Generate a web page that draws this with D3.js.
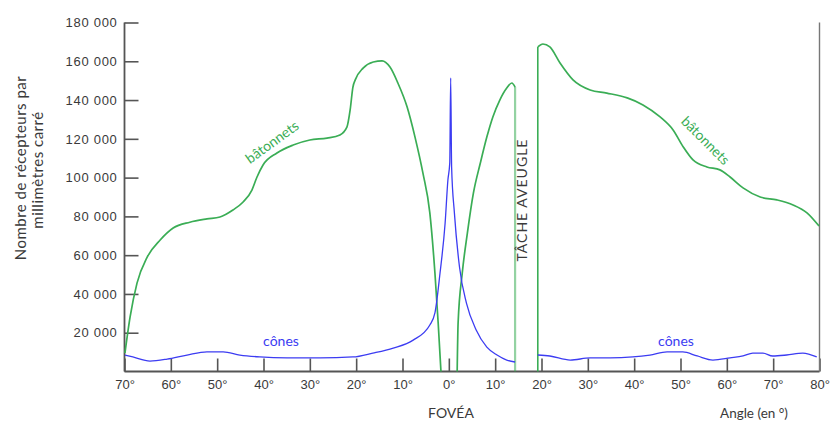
<!DOCTYPE html>
<html><head><meta charset="utf-8">
<script src="https://cdn.jsdelivr.net/npm/d3@7"></script>
<style>
html,body{margin:0;padding:0;background:#fff;}
svg{display:block;font-family:Lato,"Open Sans",sans-serif;}
</style></head>
<body><svg id="c" width="831" height="426"></svg>
<script>
// ---- data ----
const xTicks = [-70,-60,-50,-40,-30,-20,-10,0,10,20,30,40,50,60,70,80];
const xTickLabels = ["70°","60°","50°","40°","30°","20°","10°","0°","10°","20°","30°","40°","50°","60°","70°","80°"];
const yTicks = [20000,40000,60000,80000,100000,120000,140000,160000,180000];
const yTickLabels = ["20 000","40 000","60 000","80 000","100 000","120 000","140 000","160 000","180 000"];

// bâtonnets (rods), three segments
const rodsLeftAngle = [-69.9,-68.8,-67.3,-65.1,-62.3,-59.5,-55.9,-52.2,-49.4,-46.6,-44.4,-42.5,-41.4,-40.1,-37.1,-33.6,-30.0,-26.3,-23.5,-22.0,-21.3,-20.7,-20.2,-18.5,-16.3,-14.4,-12.7,-11.0,-9.0,-7.3,-5.6,-4.1,-3.0,-2.3,-1.7];
const rodsLeftValue = [9500,28000,45600,59000,67800,74000,77000,78700,79700,83300,87400,93600,100300,106500,112700,116800,119400,120400,122000,126000,134900,146700,150400,156500,159600,160200,157000,148800,136400,120900,102400,81800,50800,25000,0];
const rodsMidAngle = [1.8,2.0,2.9,4.0,5.3,6.8,8.2,9.5,11.0,12.5,13.6,14.3];
const rodsMidValue = [0,25000,50800,71400,92000,107500,120900,131300,140000,146200,148800,146700];
const rodsRightAngle = [19.2,20.3,21.8,24.0,26.8,30.5,34.1,38.5,41.9,45.6,48.4,50.6,52.7,55.7,58.5,60.7,63.5,67.2,70.8,74.3,77.3,79.9];
const rodsRightValue = [167400,168900,167400,159100,150400,145200,143600,141100,137500,131300,124600,115800,109100,105500,104000,100300,94700,90000,88500,85900,81800,75000];

// cônes (cones), two segments
const conesLeftAngle = [-69.9,-68.2,-64.5,-60.8,-56.5,-52.2,-48.7,-45.1,-40.8,-34.9,-27.8,-20.7,-16.4,-12.0,-7.7,-4.1,-3.0,-1.9,-0.8,-0.2,0.2,0.4,0.6,1.2,2.3,3.8,5.9,8.2,10.4,12.5,14.3];
const conesLeftValue = [8500,7500,5400,6400,8500,10100,10100,8500,7500,7000,7000,7500,9500,12100,16200,24000,30200,50800,76600,98800,107600,151400,105500,81800,53900,35300,21400,12600,8500,5900,4900];
const conesRightAngle = [19.2,21.8,26.2,30.5,34.8,39.7,43.4,47.1,50.5,53.6,57.0,60.7,63.5,65.6,67.8,69.9,72.9,76.4,79.4];
const conesRightValue = [8500,8000,5900,7000,7000,7500,8500,10100,10100,8000,5900,7000,8000,9500,9500,8000,8500,9500,7500];

const blindSpot = [14.3, 19.2];

// ---- drawing ----
const svg = d3.select("#c");
const x = d3.scaleLinear().domain([-70,80]).range([124.5,819.5]);
const y = d3.scaleLinear().domain([0,180000]).range([371.5,22.5]);
const axisColor = "#555";
const rodColor = "#3aad55";
const coneColor = "#3c3cf2";

// y axis (ticks inward)
const yAxis = d3.axisLeft(y).tickValues(yTicks).tickSize(-14).tickPadding(21)
  .tickFormat((d,i)=>yTickLabels[i]);
const gy = svg.append("g").attr("transform",`translate(${x(-70)},0)`).call(yAxis);
gy.select(".domain").attr("stroke",axisColor).attr("stroke-width",1.8).attr("d",`M0,${y(0)}V${y(180000)}`);
gy.selectAll(".tick line").attr("stroke",axisColor).attr("stroke-width",1.6);
gy.selectAll(".tick text").attr("fill","#3a3a3a").style("font-size","13px").style("letter-spacing","0.7px").attr("x",-7);

// x axis (ticks inward)
const xAxis = d3.axisBottom(x).tickValues(xTicks).tickSize(-13).tickPadding(6)
  .tickFormat((d,i)=>xTickLabels[i]);
const gx = svg.append("g").attr("transform",`translate(0,${y(0)})`).call(xAxis);
gx.select(".domain").attr("stroke",axisColor).attr("stroke-width",1.8).attr("d",`M${x(-70)},0H${x(80)}`);
gx.selectAll(".tick line").attr("stroke",axisColor).attr("stroke-width",1.6);
gx.selectAll(".tick text").attr("fill","#3a3a3a").style("font-size","13px").attr("dy","1.0em").attr("y",4);

// right frame line
svg.append("line").attr("x1",x(80)).attr("x2",x(80)).attr("y1",y(0)).attr("y2",y(180000))
  .attr("stroke","#777").attr("stroke-width",1.4);

const line = d3.line().x(d=>x(d[0])).y(d=>y(d[1])).curve(d3.curveMonotoneX);
const zip = (a,b)=>a.map((v,i)=>[v,b[i]]);

// blind spot edges
svg.append("line").attr("x1",x(blindSpot[0])).attr("x2",x(blindSpot[0]))
  .attr("y1",y(0)).attr("y2",y(rodsMidValue[rodsMidValue.length-1]))
  .attr("stroke",rodColor).attr("stroke-opacity",0.55).attr("stroke-width",2.2);
svg.append("line").attr("x1",x(blindSpot[1])).attr("x2",x(blindSpot[1]))
  .attr("y1",y(0)).attr("y2",y(rodsRightValue[0]))
  .attr("stroke",rodColor).attr("stroke-width",1.6);

[[rodsLeftAngle,rodsLeftValue],[rodsMidAngle,rodsMidValue],[rodsRightAngle,rodsRightValue]].forEach(([a,v])=>{
  svg.append("path").datum(zip(a,v)).attr("d",line).attr("fill","none")
    .attr("stroke",rodColor).attr("stroke-width",1.7).attr("stroke-linejoin","round");
});
[[conesLeftAngle,conesLeftValue],[conesRightAngle,conesRightValue]].forEach(([a,v])=>{
  svg.append("path").datum(zip(a,v)).attr("d",line).attr("fill","none")
    .attr("stroke",coneColor).attr("stroke-width",1.3).attr("stroke-linejoin","round");
});

// labels
const txt = (t,px,py,opts={})=>{
  const e = svg.append("text").attr("x",px).attr("y",py).text(t)
    .attr("text-anchor",opts.anchor||"middle").attr("fill",opts.fill||"#3a3a3a")
    .style("font-size",(opts.size||13)+"px");
  if(opts.rot!==undefined) e.attr("transform",`rotate(${opts.rot},${px},${py})`);
  if(opts.ls) e.style("letter-spacing",opts.ls);
  return e;
};
txt("Nombre de récepteurs par",26,168,{rot:-90,size:15,ls:"0.5px"});
txt("millimètres carré",43,170,{rot:-90,size:15,ls:"0.5px"});
txt("FOVÉA",451,418,{size:14});
txt("Angle (en °)",754,418,{size:13.5});
txt("TÂCHE AVEUGLE",527,200,{rot:-90,size:14,ls:"1px"});
txt("bâtonnets",275,146,{rot:-36,size:14,fill:rodColor});
txt("bâtonnets",702,144,{rot:45,size:14,fill:rodColor});
txt("cônes",281,346,{size:14,fill:coneColor});
txt("cônes",676,346,{size:14,fill:coneColor});
</script></body></html>
